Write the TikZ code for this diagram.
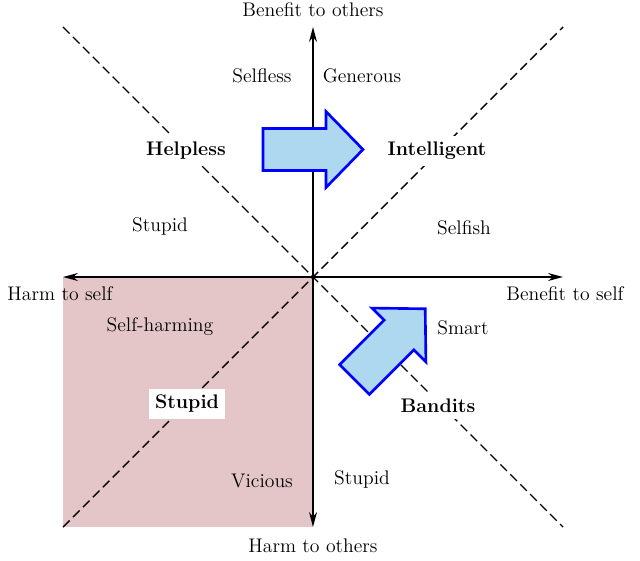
\documentclass[tikz,border=0pt]{standalone}
\usetikzlibrary{arrows.meta}

\definecolor{harmzone}{RGB}{228,198,200}
\definecolor{movefill}{RGB}{174,216,240}

\begin{document}
\begin{tikzpicture}[
  every node/.style={font=\fontsize{11.2}{13.4}\selectfont},
  axis/.style={thick, {Stealth[length=3mm,width=1.6mm]}-{Stealth[length=3mm,width=1.6mm]}},
  divider/.style={thick, dash pattern=on 5.3pt off 2.7pt},
  quadtag/.style={font=\fontsize{11.2}{13.4}\selectfont\bfseries, fill=white},
  kind/.style={},
  movearrow/.style={draw=blue, line width=1.5pt, fill=movefill, line join=miter}
]
  \useasboundingbox (-6.26,-5.66) rectangle (6.54,5.54);

  % lower left quadrant
  \fill[harmzone] (-5,-5) rectangle (0,0);

  \coordinate (origin) at (0,0);
  \coordinate (nw) at (-5,5);
  \coordinate (se) at (5,-5);
  \coordinate (sw) at (-5,-5);
  \coordinate (ne) at (5,5);
  \draw[divider] (nw) -- (se);
  \draw[divider] (sw) -- (ne);

  \coordinate (self-minus) at (-5,0);
  \coordinate (self-plus) at (5,0);
  \coordinate (others-minus) at (0,-5);
  \coordinate (others-plus) at (0,5);
  \draw[axis] (self-minus) -- (self-plus);
  \draw[axis] (others-minus) -- (others-plus);

  \node (benefit-others) at (0,5.34) {Benefit to others};
  \node (harm-others) at (0,-5.38) {Harm to others};
  \node (harm-self) at (-5.06,-0.34) {Harm to self};
  \node (benefit-self) at (5.04,-0.34) {Benefit to self};

  \node (selfless) at (-1.02,4.02) [kind] {Selfless};
  \node (generous) at (0.98,4.02) [kind] {Generous};
  \node (helpless) at (-2.54,2.52) [quadtag] {Helpless};
  \node (intelligent) at (2.48,2.52) [quadtag] {Intelligent};
  \node (stupid-nw) at (-3.06,1.02) [kind] {Stupid};
  \node (selfish) at (3.02,0.98) [kind] {Selfish};
  \node (self-harming) at (-3.06,-1.0) [kind] {Self-harming};
  \node (smart) at (3.0,-1.02) [kind] {Smart};
  \node (stupid) at (-2.52,-2.54) [quadtag] {Stupid};
  \node (bandits) at (2.5,-2.58) [quadtag] {Bandits};
  \node (vicious) at (-1.02,-4.08) [kind] {Vicious};
  \node (stupid-s) at (0.98,-4.04) [kind] {Stupid};

  % moves towards the intelligent quadrant
  \foreach \sx/\sy/\ang in {-1.0/2.55/0, 0.83/-2.05/45} {
    \begin{scope}[shift={(\sx,\sy)}, rotate=\ang]
      \draw[movearrow] (0,-0.42) -- (1.26,-0.42) -- (1.26,-0.76) -- (2,0)
        -- (1.26,0.76) -- (1.26,0.42) -- (0,0.42) -- cycle;
    \end{scope}
  }
\end{tikzpicture}
\end{document}
